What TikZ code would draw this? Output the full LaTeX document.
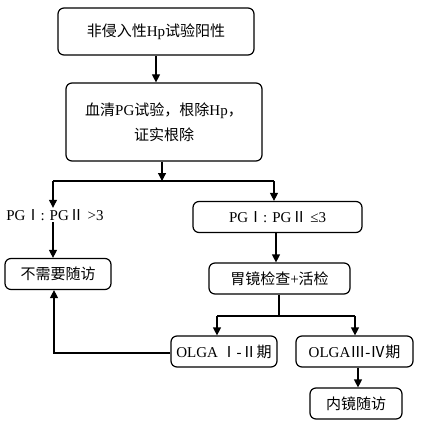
\documentclass[tikz,border=0pt]{standalone}
\usepackage{fontspec}
\setmainfont{Liberation Serif}
\newfontfamily\zh{Noto Sans CJK SC}
\usetikzlibrary{arrows.meta}
\tikzset{mybox/.style={draw,rounded corners=6pt,inner sep=0pt,align=center,font=\fontsize{15}{25}\selectfont},
  mylabel/.style={inner sep=1pt,font=\fontsize{15}{25}\selectfont},
  myarrow/.style={-{Triangle[length=8pt,width=8pt]}}}

\begin{document}
\begin{tikzpicture}[x=1pt,y=-1pt,line width=1.2pt]
 \useasboundingbox (0,0) rectangle (420,425);
 \node[mybox,minimum width=196pt,minimum height=47pt] (hp) at (156,31.5) {{\zh 非侵入性}Hp{\zh 试验阳性}};
 \node[mybox,minimum width=196pt,minimum height=78pt] (pg) at (164,122) {{\zh 血清}PG{\zh 试验，根除}Hp{\zh ，}\\{\zh 证实根除}};
 \node[mylabel] (high) at (55,215) {PG{\zh Ⅰ}: PG{\zh Ⅱ} >3};
 \node[mybox,minimum width=106pt,minimum height=31pt] (none) at (58,274) {\zh 不需要随访};
 \node[mybox,minimum width=169pt,minimum height=31pt] (low) at (277.5,217) {PG{\zh Ⅰ}: PG{\zh Ⅱ} ≤3};
 \node[mybox,minimum width=141pt,minimum height=31pt] (gastro) at (279.5,278.5) {{\zh 胃镜检查}+{\zh 活检}};
 \node[mybox,minimum width=106pt,minimum height=31pt] (olgaA) at (224,351.5) {OLGA {\zh Ⅰ}-{\zh Ⅱ期}};
 \node[mybox,minimum width=117pt,minimum height=31pt] (olgaB) at (354.5,351.5) {OLGA{\zh Ⅲ}-{\zh Ⅳ期}};
 \node[mybox,minimum width=92pt,minimum height=31pt] (endo) at (356,403.5) {\zh 内镜随访};
 \coordinate (split) at (162,181);
 \coordinate (jl) at (53,181);
 \coordinate (jr) at (274,181);
 \coordinate (fork) at (279,316);
 \coordinate (fl) at (217,316);
 \coordinate (fr) at (355,316);
 \coordinate (back) at (54,353);
 \draw[myarrow] (hp.south -| 156,0) -- (156,0 |- pg.north);
 \draw[myarrow] (pg.south -| split) -- (split);
 \draw (jl) -- (jr);
 \draw[myarrow] (jl) -- (jl |- high.north);
 \draw[myarrow] (jr) -- (jr |- low.north);
 \draw[myarrow] (high.south -| jl) -- (jl |- none.north);
 \draw[myarrow] (low.south -| 276,0) -- (276,0 |- gastro.north);
 \draw (gastro.south -| fork) -- (fork);
 \draw (fl) -- (fr);
 \draw[myarrow] (fl) -- (fl |- olgaA.north);
 \draw[myarrow] (fr) -- (fr |- olgaB.north);
 \draw[myarrow] (olgaA.west |- back) -- (back) -- (back |- none.south);
 \draw[myarrow] (olgaB.south -| 358,0) -- (358,0 |- endo.north);
\end{tikzpicture}
\end{document}
